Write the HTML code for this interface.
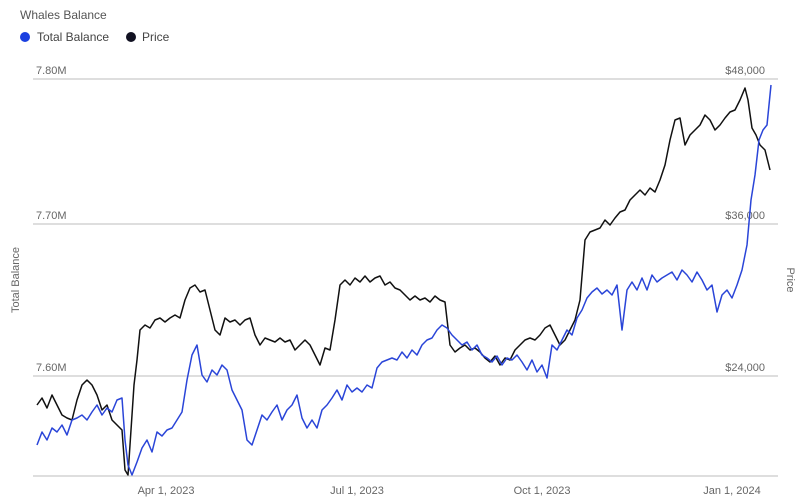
<!DOCTYPE html>
<html><head><meta charset="utf-8"><style>
body{margin:0;background:#fff;font-family:"Liberation Sans",sans-serif;}
</style></head><body>
<svg width="800" height="498" viewBox="0 0 800 498" xmlns="http://www.w3.org/2000/svg" font-family="Liberation Sans, sans-serif">
<rect width="800" height="498" fill="#fff"/>
<text x="20" y="19" font-size="12" fill="#555">Whales Balance</text>
<circle cx="25" cy="37" r="5" fill="#1a3fe0"/>
<text x="37" y="41" font-size="12" fill="#444">Total Balance</text>
<circle cx="131" cy="37" r="5" fill="#111122"/>
<text x="142" y="41" font-size="12" fill="#444">Price</text>
<g stroke="#d4d4d4" stroke-width="1.5">
<line x1="33" y1="79" x2="778" y2="79"/>
<line x1="33" y1="224" x2="778" y2="224"/>
<line x1="33" y1="376" x2="778" y2="376"/>
<line x1="33" y1="476" x2="778" y2="476"/>
</g>
<g font-size="11" fill="#666">
<text x="36" y="74">7.80M</text>
<text x="36" y="219">7.70M</text>
<text x="36" y="371">7.60M</text>
<text x="765" y="74" text-anchor="end">$48,000</text>
<text x="765" y="219" text-anchor="end">$36,000</text>
<text x="765" y="371" text-anchor="end">$24,000</text>
<text x="166" y="494" text-anchor="middle">Apr 1, 2023</text>
<text x="357" y="494" text-anchor="middle">Jul 1, 2023</text>
<text x="542" y="494" text-anchor="middle">Oct 1, 2023</text>
<text x="732" y="494" text-anchor="middle">Jan 1, 2024</text>
<text transform="translate(19,280) rotate(-90)" text-anchor="middle">Total Balance</text>
<text transform="translate(787,280) rotate(90)" text-anchor="middle">Price</text>
</g>
<polyline fill="none" stroke="#111" stroke-width="1.5" stroke-linejoin="round" points="37,405 42,398 47,408 52,395 57,405 62,415 67,418 72,420 77,400 82,385 87,380 92,385 97,395 102,410 107,405 112,420 117,425 122,430 125,470 128,475 131,430 134,385 137,360 140,330 145,325 150,328 155,320 160,318 165,322 170,318 175,315 180,318 185,300 190,288 195,285 200,292 205,290 210,310 215,330 220,335 225,318 230,322 235,320 240,325 245,320 250,318 255,335 260,345 265,338 270,340 275,342 280,338 285,342 290,340 295,350 300,345 305,340 310,345 315,355 320,365 325,348 330,350 335,320 340,285 345,280 350,285 355,278 360,282 365,276 370,282 375,278 380,276 385,285 390,282 395,288 400,290 405,295 410,300 415,296 420,300 425,298 430,302 435,296 440,300 445,302 450,345 455,352 460,348 465,345 470,350 475,348 480,352 485,358 490,362 495,356 500,365 505,358 510,360 515,350 520,345 525,340 530,338 535,340 540,335 545,328 550,325 555,335 560,345 565,340 570,330 575,320 580,300 585,240 590,232 595,230 600,228 605,220 610,225 615,218 620,212 625,210 630,200 635,195 640,190 645,195 650,188 655,192 660,180 665,165 670,140 675,120 680,118 685,145 690,135 695,130 700,125 705,115 710,120 715,130 720,125 725,118 730,112 735,110 740,100 745,88 748,100 752,128 756,135 760,145 765,150 770,170"/>
<polyline fill="none" stroke="#2a45d8" stroke-width="1.5" stroke-linejoin="round" points="37,445 42,432 47,440 52,428 57,432 62,425 67,435 72,420 77,418 82,415 87,420 92,412 97,405 102,415 107,408 112,412 117,400 122,398 125,440 128,465 132,475 137,462 142,448 147,440 152,452 157,432 162,436 167,430 172,428 177,420 182,412 187,380 192,355 197,345 202,375 207,382 212,370 217,375 222,365 227,370 232,390 237,400 242,410 247,440 252,445 257,430 262,415 267,420 272,412 277,405 282,420 287,410 292,405 297,395 302,418 307,428 312,420 317,428 322,410 327,405 332,398 337,390 342,400 347,385 352,392 357,388 362,392 367,385 372,388 377,368 382,362 387,360 392,358 397,360 402,352 407,358 412,350 417,355 422,345 427,340 432,338 437,330 442,325 447,328 452,335 457,340 462,345 467,342 472,350 477,345 482,355 487,358 492,362 497,356 502,365 507,358 512,360 517,355 522,362 527,370 532,360 537,372 542,365 547,378 552,345 557,350 562,340 567,330 572,335 577,318 582,310 587,298 592,292 597,288 602,294 607,290 612,295 617,285 622,330 627,290 632,282 637,290 642,278 647,290 652,275 657,282 662,278 667,275 672,272 677,280 682,270 687,275 692,282 697,272 702,280 707,290 712,285 717,312 722,295 727,290 732,298 737,285 742,270 747,245 751,200 755,175 759,140 763,130 767,125 771,85"/>
</svg>
</body></html>
